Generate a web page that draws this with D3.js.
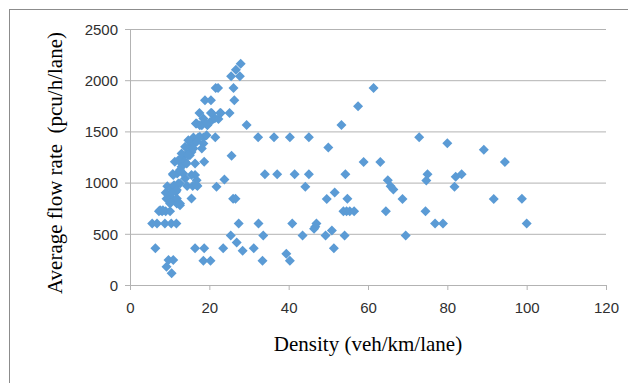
<!DOCTYPE html>
<html>
<head>
<meta charset="utf-8">
<script src="https://cdn.jsdelivr.net/npm/d3@7"></script>
<style>
  body { margin: 0; background: #fff; }
  svg { display: block; }
  .tickText { font-family: "Liberation Sans", Arial, sans-serif; font-size: 15px; fill: #303030; }
  .axisTitle { font-family: "Liberation Serif", "Times New Roman", serif; font-size: 21px; fill: #000; white-space: pre; }
</style>
</head>
<body>
<svg width="628" height="383"></svg>
<script>
// density (veh/km/lane) and flow rate (pcu/h/lane)
const density = [
  5.6, 6.8, 6.4, 7.3, 8.1, 9.0, 10.1, 8.8, 10.4, 11.7, 9.7, 10.9, 9.2, 10.5,
  9.4, 9.2, 9.7, 9.0, 10.3, 10.9, 11.8, 12.6, 11.1, 11.6, 12.2, 10.8, 11.9, 11.3, 12.6, 13.0,
  13.4, 14.4, 15.5, 15.1, 16.1, 16.0, 17.2, 18.5, 16.8, 18.1, 19.5, 20.2, 13.9, 14.4, 15.8,
  17.0, 15.5, 16.4, 16.8, 13.4, 18.7, 16.4, 21.5, 23.8, 29.4,
  17.5, 20.6, 22.9, 18.5, 16.6, 19.3, 17.6, 21.4, 17.6, 19.3, 14.7, 16.8, 18.5, 13.9, 16.0,
  18.1, 13.0, 15.1, 12.2, 13.9, 10.9, 12.6, 14.3, 14.7, 15.5, 16.8, 12.6, 11.8, 10.5, 11.8,
  12.6, 10.1, 7.6, 8.3, 16.4, 18.7, 18.5, 20.3,
  18.9, 20.4, 20.4, 21.6, 22.2, 22.3, 22.7, 25.1, 25.5, 26.1, 26.3, 26.7, 27.7, 27.9,
  25.6, 26.0, 26.6, 27.4, 26.9, 25.4, 23.5, 21.8, 28.4,
  31.2, 32.3, 32.4, 33.4, 33.6, 34.0, 36.3, 37.1, 39.4, 40.3, 40.3, 40.9, 41.5, 43.5,
  44.2, 45.1, 45.1, 46.4, 46.7, 47.0, 49.3, 49.6, 50.0, 50.9, 51.4, 51.6, 53.3, 53.8,
  54.1, 54.3, 54.6, 54.8, 55.4, 56.5, 57.5, 58.9, 61.4, 63.1, 64.5, 65.0, 65.7, 66.4,
  68.7, 69.5, 72.9, 74.5, 74.7, 75.0, 76.9, 78.9, 80.0, 81.8, 82.1, 83.6, 89.2, 91.7,
  94.5, 98.8, 100.0
];
const flow = [
  600, 600, 360, 720, 720, 720, 720, 600, 600, 600, 244, 244, 179, 114,
  965, 842, 845, 900, 943, 829, 797, 780, 975, 910, 992, 1083, 1089, 1203, 1203, 1154,
  1252, 1284, 1300, 1349, 1382, 1441, 1441, 1441, 1577, 1561, 1561, 1593, 1041, 966, 966,
  966, 845, 1073, 1024, 1089, 1203, 1187, 1443, 1031, 1563,
  1680, 1680, 1680, 1626, 1577, 1577, 1561, 1629, 1447, 1463, 1414, 1398, 1382, 1349, 1333,
  1333, 1284, 1268, 1219, 1203, 1073, 1122, 1187, 1268, 1073, 975, 992, 927, 894, 845,
  797, 797, 731, 731, 360, 360, 237, 237,
  1804, 1804, 1680, 1924, 1924, 1622, 1680, 1680, 2038, 1924, 1804, 2103, 2038, 2161,
  1261, 842, 842, 600, 416, 484, 360, 959, 335,
  360, 1443, 600, 237, 484, 1082, 1443, 1082, 305, 1443, 237, 600, 1082, 484,
  959, 1443, 1082, 550, 569, 600, 484, 840, 1342, 533, 360, 903, 1563, 720,
  484, 1082, 720, 842, 720, 720, 1745, 1200, 1924, 1200, 720, 1024, 965, 933,
  840, 484, 1443, 720, 1020, 1082, 600, 600, 1385, 959, 1056, 1082, 1320, 840,
  1200, 842, 600
];
const xTicks = [0, 20, 40, 60, 80, 100, 120];
const yTicks = [0, 500, 1000, 1500, 2000, 2500];

const svg = d3.select("svg");

// outer chart border (runs off the right and bottom edge)
svg.append("rect")
  .attr("x", 9.5).attr("y", 9.5)
  .attr("width", 640).attr("height", 400)
  .style("fill", "none").style("stroke", "#8c8c8c").style("stroke-width", 1);

const plotL = 130, plotR = 606, plotT = 29, plotB = 285;
const x = d3.scaleLinear().domain([0, 120]).range([plotL, plotR]);
const y = d3.scaleLinear().domain([0, 2500]).range([plotB, plotT]);

// gridlines + y ticks
const yAxis = d3.axisLeft(y).tickValues(yTicks).tickSize(-(plotR - plotL)).tickFormat(d3.format("d")).tickPadding(12);
const gy = svg.append("g").attr("transform", "translate(" + plotL + ",0)").call(yAxis);
gy.select(".domain").remove();
gy.selectAll(".tick line").attr("x1", -5).style("stroke", "#b3b3b3");
gy.selectAll(".tick text").attr("class", "tickText").attr("dy", "0.35em");

// x axis
const xAxis = d3.axisBottom(x).tickValues(xTicks).tickSize(5).tickPadding(12);
const gx = svg.append("g").attr("transform", "translate(0," + plotB + ")").call(xAxis);
gx.select(".domain").attr("d", "M" + plotL + ",0.5H" + plotR).style("stroke", "#b3b3b3");
gx.selectAll(".tick line").style("stroke", "#b3b3b3");
gx.selectAll(".tick text").attr("class", "tickText").attr("dy", "0.71em");

// y axis line
svg.append("line")
  .attr("x1", plotL + 0.5).attr("x2", plotL + 0.5)
  .attr("y1", plotT).attr("y2", plotB)
  .style("stroke", "#b3b3b3");

// points
const pts = density.map((d, i) => ({ k: d, q: flow[i] }));
svg.append("g").selectAll("path")
  .data(pts).enter()
  .append("path")
  .attr("d", "M0,-5L5,0L0,5L-5,0Z")
  .attr("transform", d => "translate(" + x(d.k) + "," + y(d.q) + ")")
  .style("fill", "#5B9BD5");

// axis titles
svg.append("text")
  .attr("class", "axisTitle")
  .attr("x", 368).attr("y", 351)
  .attr("text-anchor", "middle")
  .text("Density (veh/km/lane)");

svg.append("text")
  .attr("class", "axisTitle")
  .attr("transform", "translate(62,163) rotate(-90)")
  .attr("text-anchor", "middle")
  .text("Average flow rate  (pcu/h/lane)");
</script>
</body>
</html>
